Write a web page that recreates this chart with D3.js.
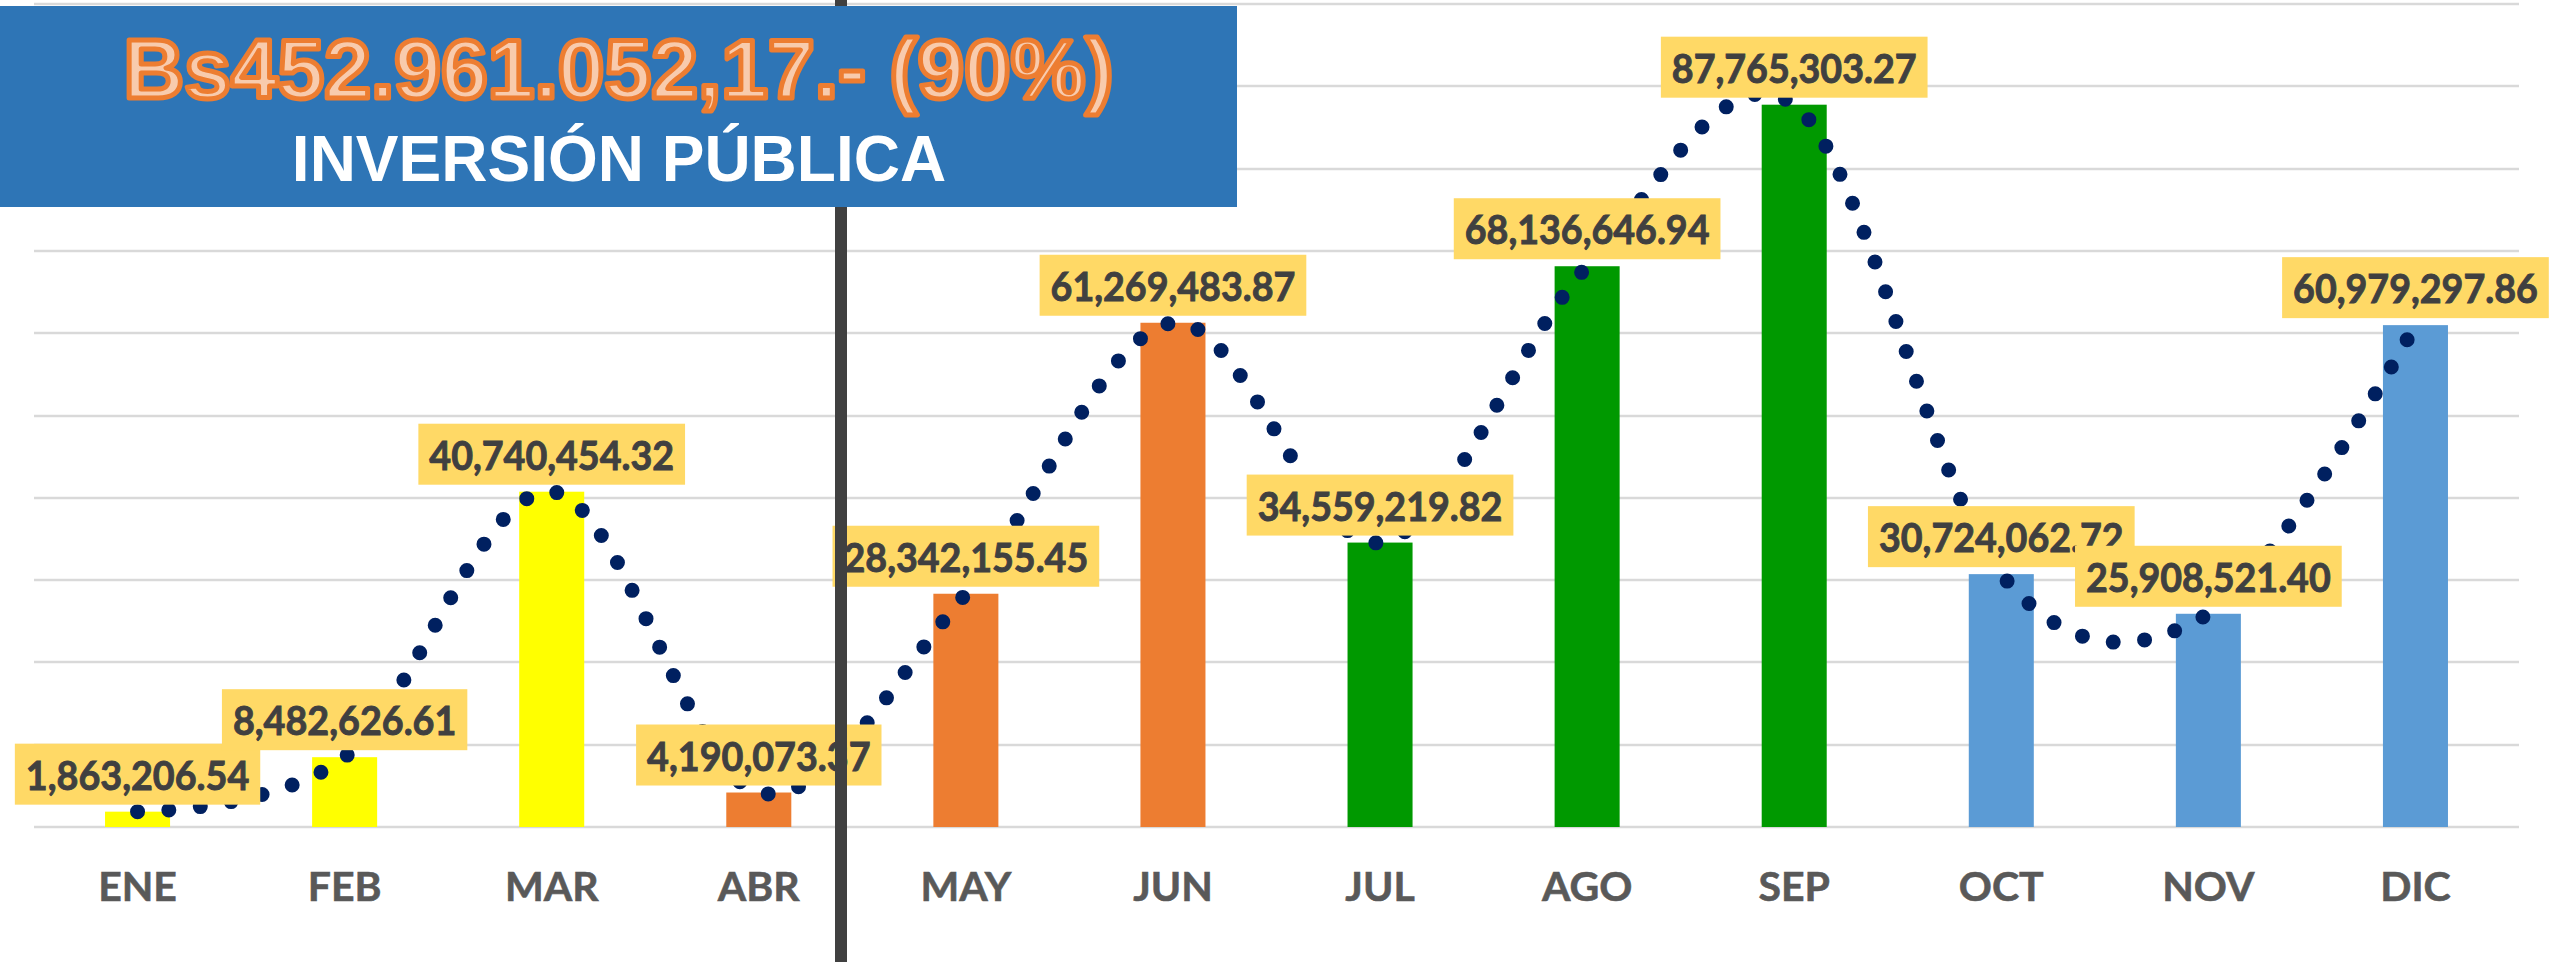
<!DOCTYPE html>
<html>
<head>
<meta charset="utf-8">
<script src="https://cdn.jsdelivr.net/npm/d3@7"></script>
<style>
  body { margin: 0; background: #fff; }
  svg { display: block; }
</style>
</head>
<body>
<svg id="chart" width="2552" height="962"></svg>
<script>
// monthly values
var months = ["ENE", "FEB", "MAR", "ABR", "MAY", "JUN", "JUL", "AGO", "SEP", "OCT", "NOV", "DIC"];
var values = [1863206.54, 8482626.61, 40740454.32, 4190073.37, 28342155.45, 61269483.87,
              34559219.82, 68136646.94, 87765303.27, 30724062.72, 25908521.40, 60979297.86];
var quarterColors = ["#FFFF00", "#ED7D31", "#009900", "#5B9BD5"];
var titleAmount = "Bs452.961.052,17.- (90%)";
var titleText = "INVERSIÓN PÚBLICA";

var svg = d3.select("#chart");

var x = d3.scaleBand().domain(months).range([34, 2519]);
var y = d3.scaleLinear().domain([0, 100000000]).range([827, 4]);
var fmt = d3.format(",.2f");

function cx(d) { return x(d) + x.bandwidth() / 2; }

// gridlines
svg.append("g").selectAll("line")
    .data(y.ticks(10))
    .enter().append("line")
    .attr("x1", 34).attr("x2", 2519)
    .attr("y1", function(d) { return Math.round(y(d)); })
    .attr("y2", function(d) { return Math.round(y(d)); })
    .attr("stroke", "#D9D9D9")
    .attr("stroke-width", 2.5);

// bars
var barW = x.bandwidth() * 0.314;
svg.append("g").selectAll("rect")
    .data(months)
    .enter().append("rect")
    .attr("x", function(d) { return cx(d) - barW / 2; })
    .attr("y", function(d, i) { return y(values[i]); })
    .attr("width", barW)
    .attr("height", function(d, i) { return y(0) - y(values[i]); })
    .attr("fill", function(d, i) { return quarterColors[Math.floor(i / 3)]; });

// dotted trend line
var line = d3.line()
    .x(function(d, i) { return cx(months[i]); })
    .y(function(d) { return y(d); })
    .curve(d3.curveCardinal.tension(0));

svg.append("path")
    .datum(values)
    .attr("d", line)
    .attr("fill", "none")
    .attr("stroke", "#002060")
    .attr("stroke-width", 15)
    .attr("stroke-linecap", "round")
    .attr("stroke-dasharray", "0 31.5");

// x axis labels
var xAxis = svg.append("g")
    .attr("transform", "translate(0,872)")
    .call(d3.axisBottom(x).tickSize(0).tickPadding(0));
xAxis.select(".domain").remove();
xAxis.selectAll("text")
    .attr("dy", "0.71em")
    .attr("fill", "#595959")
    .attr("stroke", "#595959")
    .attr("stroke-width", 0.6)
    .style("font-family", "Lato, 'Open Sans', sans-serif")
    .style("font-weight", "bold")
    .style("font-size", "41px");

// data labels
function labelWidth(s) {
    var w = 0;
    for (var k = 0; k < s.length; k++) {
        w += (s[k] === "," || s[k] === ".") ? 0.252 : 0.507;
    }
    return w * 42;
}

var labels = svg.append("g").selectAll("g")
    .data(months)
    .enter().append("g")
    .attr("transform", function(d, i) {
        return "translate(" + cx(d) + "," + (y(values[i]) - 7) + ")";
    });

labels.append("rect")
    .attr("x", function(d, i) { return -(labelWidth(fmt(values[i])) + 22) / 2; })
    .attr("y", -61)
    .attr("width", function(d, i) { return labelWidth(fmt(values[i])) + 22; })
    .attr("height", 61)
    .attr("fill", "#FFD966");

labels.append("text")
    .attr("text-anchor", "middle")
    .attr("y", -15)
    .attr("textLength", function(d, i) { return labelWidth(fmt(values[i])); })
    .attr("lengthAdjust", "spacingAndGlyphs")
    .attr("fill", "#404040")
    .attr("stroke", "#404040")
    .attr("stroke-width", 0.9)
    .style("font-family", "Lato, 'Open Sans', sans-serif")
    .style("font-weight", "bold")
    .style("font-size", "40px")
    .text(function(d, i) { return fmt(values[i]); });

// separator line
svg.append("line")
    .attr("x1", 841).attr("x2", 841)
    .attr("y1", 0).attr("y2", 962)
    .attr("stroke", "#404040")
    .attr("stroke-width", 12);

// title box
var title = svg.append("g");
title.append("rect")
    .attr("x", 0).attr("y", 6)
    .attr("width", 1237).attr("height", 201)
    .attr("fill", "#2E75B6");

title.append("text")
    .attr("x", 618.5).attr("y", 98)
    .attr("text-anchor", "middle")
    .attr("fill", "#F8CBAD")
    .attr("stroke", "#ED7D31")
    .attr("stroke-width", 5)
    .attr("stroke-linejoin", "round")
    .style("font-family", "'Liberation Sans', Arial, sans-serif")
    .style("font-weight", "bold")
    .style("font-size", "84px")
    .text(titleAmount);

title.append("text")
    .attr("x", 619).attr("y", 181)
    .attr("text-anchor", "middle")
    .attr("fill", "#FFFFFF")
    .style("font-family", "'Liberation Sans', Arial, sans-serif")
    .style("font-weight", "bold")
    .style("font-size", "64px")
    .text(titleText);
</script>
</body>
</html>
